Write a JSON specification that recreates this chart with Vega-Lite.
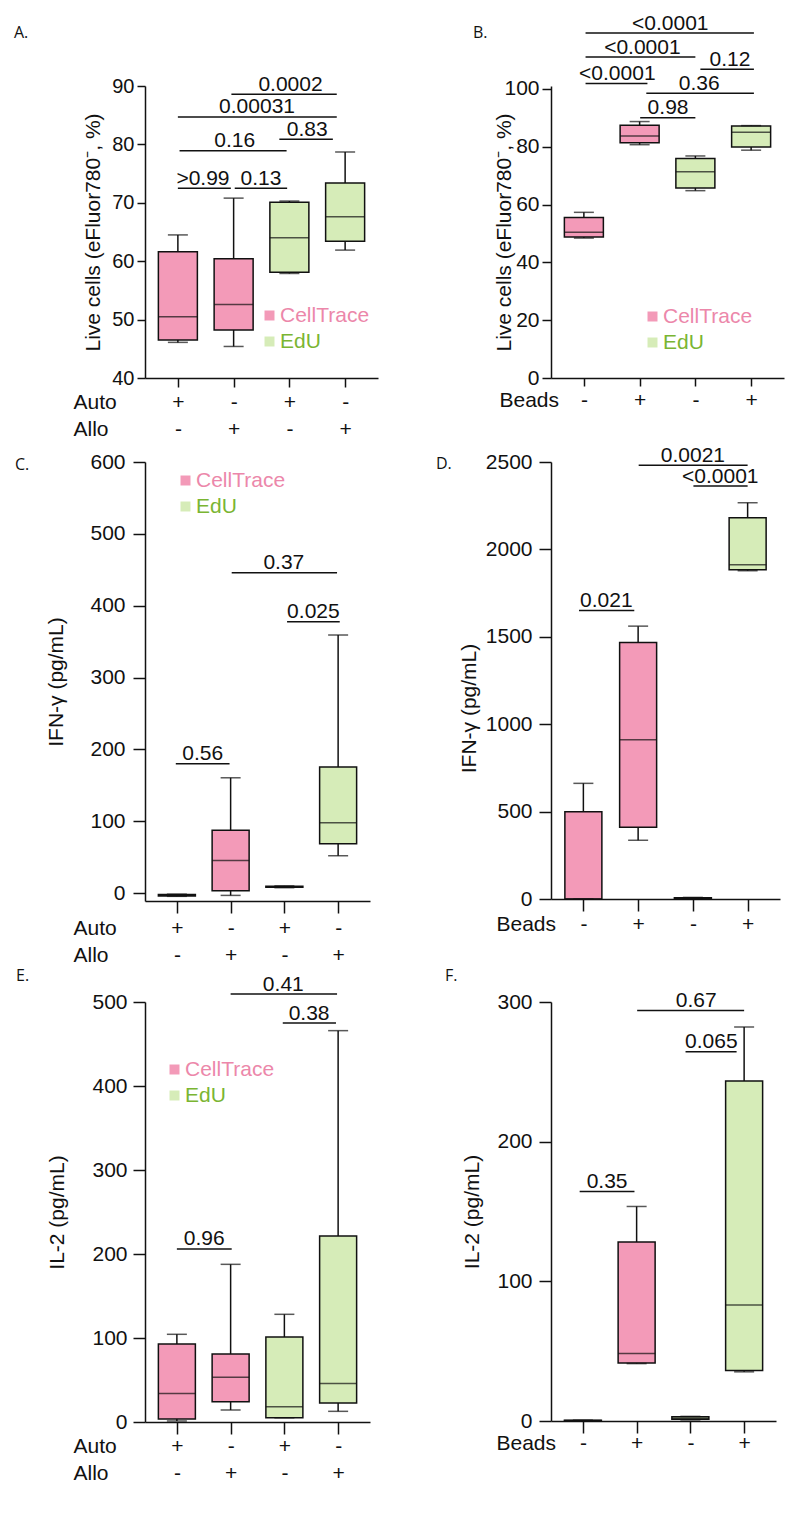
{
  "$schema": "https://vega.github.io/schema/vega-lite/v6.json",
  "background": "white",
  "padding": {"left": 14, "top": 12, "right": 5, "bottom": 5},
  "config": {
    "view": {"stroke": null},
    "font": "Liberation Sans",
    "axis": {"grid": false, "domainColor": "#111", "tickColor": "#111", "labelColor": "#111", "titleColor": "#111", "domainWidth": 1.5, "tickWidth": 1.5, "labelFont": "Liberation Sans", "titleFont": "Liberation Sans", "labelFontSize": 21, "titleFontSize": 21, "titleFontWeight": "normal", "labelOverlap": false, "labelFlush": false, "format": "d"},
    "legend": {"labelFont": "Liberation Sans", "labelFontSize": 21, "symbolType": "square", "symbolSize": 100, "symbolStrokeWidth": 0, "rowPadding": 4, "labelOffset": 0, "padding": 0},
    "title": {"anchor": "start", "frame": "group", "font": "Open Sans", "fontSize": 16, "fontWeight": "normal", "color": "#111", "offset": 0, "baseline": "alphabetic"}
  },
  "datasets": {
    "boxes": [
      {"panel": "A", "pos": 1, "dye": "CellTrace", "min": 46.1, "q1": 46.5, "median": 50.5, "q3": 61.6, "max": 64.5},
      {"panel": "A", "pos": 2, "dye": "CellTrace", "min": 45.4, "q1": 48.2, "median": 52.6, "q3": 60.4, "max": 70.8},
      {"panel": "A", "pos": 3, "dye": "EdU", "min": 57.9, "q1": 58.1, "median": 64.0, "q3": 70.1, "max": 70.3},
      {"panel": "A", "pos": 4, "dye": "EdU", "min": 61.9, "q1": 63.4, "median": 67.6, "q3": 73.4, "max": 78.7},
      {"panel": "B", "pos": 1, "dye": "CellTrace", "min": 48.4, "q1": 48.8, "median": 50.4, "q3": 55.5, "max": 57.3},
      {"panel": "B", "pos": 2, "dye": "CellTrace", "min": 80.7, "q1": 81.4, "median": 83.7, "q3": 87.4, "max": 88.7},
      {"panel": "B", "pos": 3, "dye": "EdU", "min": 64.8, "q1": 65.7, "median": 71.3, "q3": 75.9, "max": 76.8},
      {"panel": "B", "pos": 4, "dye": "EdU", "min": 78.8, "q1": 79.9, "median": 85.0, "q3": 87.2, "max": 87.3},
      {"panel": "C", "pos": 1, "dye": "CellTrace", "min": -4.5, "q1": -4, "median": -3, "q3": -2, "max": -1.5},
      {"panel": "C", "pos": 2, "dye": "CellTrace", "min": -3.2, "q1": 3.2, "median": 45.5, "q3": 87.3, "max": 160.5},
      {"panel": "C", "pos": 3, "dye": "EdU", "min": 7.5, "q1": 8, "median": 8.5, "q3": 9.5, "max": 10},
      {"panel": "C", "pos": 4, "dye": "EdU", "min": 52.0, "q1": 68.7, "median": 97.9, "q3": 175.4, "max": 359.2},
      {"panel": "D", "pos": 1, "dye": "CellTrace", "min": 0, "q1": 0, "median": 0, "q3": 499.7, "max": 661.6},
      {"panel": "D", "pos": 2, "dye": "CellTrace", "min": 336, "q1": 410, "median": 911, "q3": 1468, "max": 1561},
      {"panel": "D", "pos": 3, "dye": "EdU", "min": 2, "q1": 3, "median": 5, "q3": 7, "max": 9},
      {"panel": "D", "pos": 4, "dye": "EdU", "min": 1878, "q1": 1883, "median": 1912, "q3": 2181, "max": 2267},
      {"panel": "E", "pos": 1, "dye": "CellTrace", "min": 1.2, "q1": 3.6, "median": 33.8, "q3": 92.9, "max": 104.4},
      {"panel": "E", "pos": 2, "dye": "CellTrace", "min": 14.3, "q1": 24.2, "median": 53.2, "q3": 81, "max": 187.7},
      {"panel": "E", "pos": 3, "dye": "EdU", "min": 5, "q1": 5.2, "median": 18.3, "q3": 101.2, "max": 128.2},
      {"panel": "E", "pos": 4, "dye": "EdU", "min": 12.7, "q1": 22.6, "median": 45.7, "q3": 221.4, "max": 465.9},
      {"panel": "F", "pos": 1, "dye": "CellTrace", "min": 0, "q1": 0, "median": 0.3, "q3": 0.5, "max": 0.6},
      {"panel": "F", "pos": 2, "dye": "CellTrace", "min": 41.1, "q1": 41.6, "median": 48.3, "q3": 128.2, "max": 153.6},
      {"panel": "F", "pos": 3, "dye": "EdU", "min": 0.8, "q1": 1.2, "median": 2, "q3": 3, "max": 3.3},
      {"panel": "F", "pos": 4, "dye": "EdU", "min": 35.2, "q1": 36.1, "median": 83, "q3": 243.4, "max": 282.1}
    ],
    "brackets": [
      {"panel": "A", "x1": 1.0, "x2": 1.95, "y": 72.5, "lx": 1.45, "label": ">0.99"},
      {"panel": "A", "x1": 2.02, "x2": 2.96, "y": 72.5, "lx": 2.49, "label": "0.13"},
      {"panel": "A", "x1": 1.03, "x2": 2.95, "y": 78.9, "lx": 2.02, "label": "0.16"},
      {"panel": "A", "x1": 2.82, "x2": 3.78, "y": 80.9, "lx": 3.32, "label": "0.83"},
      {"panel": "A", "x1": 1.0, "x2": 3.85, "y": 84.7, "lx": 2.42, "label": "0.00031"},
      {"panel": "A", "x1": 1.96, "x2": 3.85, "y": 88.6, "lx": 3.02, "label": "0.0002"},
      {"panel": "B", "x1": 1.03, "x2": 4.05, "y": 119.3, "lx": 2.55, "label": "<0.0001"},
      {"panel": "B", "x1": 1.03, "x2": 3.0, "y": 111.0, "lx": 2.05, "label": "<0.0001"},
      {"panel": "B", "x1": 3.09, "x2": 4.05, "y": 106.8, "lx": 3.62, "label": "0.12"},
      {"panel": "B", "x1": 1.03, "x2": 2.14, "y": 101.9, "lx": 1.6, "label": "<0.0001"},
      {"panel": "B", "x1": 2.12, "x2": 4.05, "y": 98.5, "lx": 3.07, "label": "0.36"},
      {"panel": "B", "x1": 2.01, "x2": 3.0, "y": 90.0, "lx": 2.51, "label": "0.98"},
      {"panel": "C", "x1": 0.98, "x2": 1.98, "y": 180, "lx": 1.48, "label": "0.56"},
      {"panel": "C", "x1": 2.02, "x2": 3.98, "y": 446, "lx": 2.99, "label": "0.37"},
      {"panel": "C", "x1": 3.05, "x2": 4.03, "y": 377.7, "lx": 3.54, "label": "0.025"},
      {"panel": "D", "x1": 2.01, "x2": 4.0, "y": 2481, "lx": 3.0, "label": "0.0021"},
      {"panel": "D", "x1": 3.01, "x2": 4.0, "y": 2362, "lx": 3.5, "label": "<0.0001"},
      {"panel": "D", "x1": 0.92, "x2": 1.93, "y": 1651, "lx": 1.42, "label": "0.021"},
      {"panel": "E", "x1": 1.0, "x2": 2.02, "y": 206, "lx": 1.51, "label": "0.96"},
      {"panel": "E", "x1": 2.0, "x2": 3.98, "y": 509.5, "lx": 2.98, "label": "0.41"},
      {"panel": "E", "x1": 2.97, "x2": 3.96, "y": 475, "lx": 3.46, "label": "0.38"},
      {"panel": "F", "x1": 0.94, "x2": 1.96, "y": 164.4, "lx": 1.45, "label": "0.35"},
      {"panel": "F", "x1": 2.01, "x2": 4.0, "y": 294, "lx": 3.11, "label": "0.67"},
      {"panel": "F", "x1": 2.91, "x2": 3.86, "y": 264.4, "lx": 3.39, "label": "0.065"}
    ]
  },
  "columns": 2,
  "bounds": "flush",
  "align": "each",
  "spacing": {"row": 84, "column": 173},
  "resolve": {"scale": {"color": "independent"}, "legend": {"color": "independent"}},
  "concat": [
    {
      "width": 233, "height": 292,
      "title": {"text": "A.", "dx": -131, "dy": -29},
      "layer": [
        {"data": {"name": "boxes"}, "transform": [{"filter": "datum.panel == 'A'"}],
         "mark": {"type": "rule", "color": "#111", "strokeWidth": 1.5},
         "encoding": {
           "x": {"field": "pos", "type": "quantitative", "scale": {"domain": [0.5, 4.5], "nice": false, "zero": false},
                 "axis": {"values": [1, 2, 3, 4], "tickSize": 9, "labelPadding": 21, "labelBaseline": "alphabetic", "labelLineHeight": 27, "labelExpr": "datum.value % 2 == 1 ? ['+','-'] : ['-','+']", "title": ["Auto", "Allo"], "titleAngle": 0, "titleAlign": "left", "titleBaseline": "alphabetic", "titleLineHeight": 27, "titleX": -72, "titleY": 30}},
           "y": {"field": "min", "type": "quantitative", "scale": {"domain": [40, 90], "nice": false, "zero": false},
                 "axis": {"values": [40, 50, 60, 70, 80, 90], "tickSize": 8, "labelPadding": 3, "labelFontSize": 20, "title": "Live cells (eFluor780⁻, %)", "titleX": -46, "titleBaseline": "alphabetic"}},
           "y2": {"field": "max"}
         }},
        {"data": {"name": "boxes"}, "transform": [{"filter": "datum.panel == 'A'"}],
         "mark": {"type": "bar", "orient": "vertical", "size": 39, "stroke": "#111", "strokeWidth": 1.5},
         "encoding": {
           "x": {"field": "pos", "type": "quantitative"},
           "y": {"field": "q1", "type": "quantitative"},
           "y2": {"field": "q3"},
           "color": {"field": "dye", "type": "nominal", "scale": {"domain": ["CellTrace", "EdU"], "range": ["#f39ab8", "#d6ecb8"]},
                     "legend": {"title": null, "orient": "none", "legendX": 114, "legendY": 219, "labelColor": {"expr": "datum.label == 'CellTrace' ? '#ec87aa' : '#7ab532'"}}}
         }},
        {"data": {"name": "boxes"}, "transform": [{"filter": "datum.panel == 'A'"}],
         "mark": {"type": "tick", "orient": "horizontal", "size": 39, "thickness": 1.5, "color": "#111"},
         "encoding": {"x": {"field": "pos", "type": "quantitative"}, "y": {"field": "median", "type": "quantitative"}}},
        {"data": {"name": "boxes"}, "transform": [{"filter": "datum.panel == 'A'"}],
         "mark": {"type": "tick", "orient": "horizontal", "size": 20, "thickness": 1.5, "color": "#111"},
         "encoding": {"x": {"field": "pos", "type": "quantitative"}, "y": {"field": "min", "type": "quantitative"}}},
        {"data": {"name": "boxes"}, "transform": [{"filter": "datum.panel == 'A'"}],
         "mark": {"type": "tick", "orient": "horizontal", "size": 20, "thickness": 1.5, "color": "#111"},
         "encoding": {"x": {"field": "pos", "type": "quantitative"}, "y": {"field": "max", "type": "quantitative"}}},
        {"data": {"name": "brackets"}, "transform": [{"filter": "datum.panel == 'A'"}],
         "mark": {"type": "rule", "color": "#111", "strokeWidth": 1.5},
         "encoding": {"x": {"field": "x1", "type": "quantitative"}, "x2": {"field": "x2"}, "y": {"field": "y", "type": "quantitative"}}},
        {"data": {"name": "brackets"}, "transform": [{"filter": "datum.panel == 'A'"}],
         "mark": {"type": "text", "baseline": "alphabetic", "dy": -3.5, "fontSize": 21, "color": "#111"},
         "encoding": {"x": {"field": "lx", "type": "quantitative"}, "y": {"field": "y", "type": "quantitative"}, "text": {"field": "label"}}}
      ]
    },
    {
      "width": 233, "height": 292,
      "title": {"text": "B.", "dx": -78, "dy": 32},
      "layer": [
        {"data": {"name": "boxes"}, "transform": [{"filter": "datum.panel == 'B'"}],
         "mark": {"type": "rule", "color": "#111", "strokeWidth": 1.5},
         "encoding": {
           "x": {"field": "pos", "type": "quantitative", "scale": {"domain": [0.5, 4.5], "nice": false, "zero": false},
                 "axis": {"values": [1, 2, 3, 4], "tickSize": 8, "labelPadding": 20, "labelBaseline": "alphabetic", "labelExpr": "datum.value % 2 == 1 ? '-' : '+'", "title": "Beads", "titleAngle": 0, "titleAlign": "left", "titleBaseline": "alphabetic", "titleX": -52, "titleY": 28}},
           "y": {"field": "min", "type": "quantitative", "scale": {"domain": [0, 101], "nice": false, "zero": false},
                 "axis": {"values": [0, 20, 40, 60, 80, 100], "tickSize": 9, "labelPadding": 3, "title": "Live cells (eFluor780⁻, %)", "titleX": -41, "titleBaseline": "alphabetic"}},
           "y2": {"field": "max"}
         }},
        {"data": {"name": "boxes"}, "transform": [{"filter": "datum.panel == 'B'"}],
         "mark": {"type": "bar", "orient": "vertical", "size": 39, "stroke": "#111", "strokeWidth": 1.5},
         "encoding": {
           "x": {"field": "pos", "type": "quantitative"},
           "y": {"field": "q1", "type": "quantitative"},
           "y2": {"field": "q3"},
           "color": {"field": "dye", "type": "nominal", "scale": {"domain": ["CellTrace", "EdU"], "range": ["#f39ab8", "#d6ecb8"]},
                     "legend": {"title": null, "orient": "none", "legendX": 91, "legendY": 220, "labelColor": {"expr": "datum.label == 'CellTrace' ? '#ec87aa' : '#7ab532'"}}}
         }},
        {"data": {"name": "boxes"}, "transform": [{"filter": "datum.panel == 'B'"}],
         "mark": {"type": "tick", "orient": "horizontal", "size": 39, "thickness": 1.5, "color": "#111"},
         "encoding": {"x": {"field": "pos", "type": "quantitative"}, "y": {"field": "median", "type": "quantitative"}}},
        {"data": {"name": "boxes"}, "transform": [{"filter": "datum.panel == 'B'"}],
         "mark": {"type": "tick", "orient": "horizontal", "size": 20, "thickness": 1.5, "color": "#111"},
         "encoding": {"x": {"field": "pos", "type": "quantitative"}, "y": {"field": "min", "type": "quantitative"}}},
        {"data": {"name": "boxes"}, "transform": [{"filter": "datum.panel == 'B'"}],
         "mark": {"type": "tick", "orient": "horizontal", "size": 20, "thickness": 1.5, "color": "#111"},
         "encoding": {"x": {"field": "pos", "type": "quantitative"}, "y": {"field": "max", "type": "quantitative"}}},
        {"data": {"name": "brackets"}, "transform": [{"filter": "datum.panel == 'B'"}],
         "mark": {"type": "rule", "color": "#111", "strokeWidth": 1.5},
         "encoding": {"x": {"field": "x1", "type": "quantitative"}, "x2": {"field": "x2"}, "y": {"field": "y", "type": "quantitative"}}},
        {"data": {"name": "brackets"}, "transform": [{"filter": "datum.panel == 'B'"}],
         "mark": {"type": "text", "baseline": "alphabetic", "dy": -3.5, "fontSize": 21, "color": "#111"},
         "encoding": {"x": {"field": "lx", "type": "quantitative"}, "y": {"field": "y", "type": "quantitative"}, "text": {"field": "label"}}}
      ]
    },
    {
      "width": 225, "height": 456,
      "title": {"text": "C.", "dx": -130, "dy": 26},
      "layer": [
        {"data": {"name": "boxes"}, "transform": [{"filter": "datum.panel == 'C'"}],
         "mark": {"type": "rule", "color": "#111", "strokeWidth": 1.5},
         "encoding": {
           "x": {"field": "pos", "type": "quantitative", "scale": {"domain": [0.5, 4.5], "nice": false, "zero": false},
                 "axis": {"offset": -17, "values": [1, 2, 3, 4], "tickSize": 12, "labelPadding": 21, "labelBaseline": "alphabetic", "labelLineHeight": 27, "labelExpr": "datum.value % 2 == 1 ? ['+','-'] : ['-','+']", "title": ["Auto", "Allo"], "titleAngle": 0, "titleAlign": "left", "titleBaseline": "alphabetic", "titleLineHeight": 27, "titleX": -72, "titleY": 33}},
           "y": {"field": "min", "type": "quantitative", "scale": {"domain": [-11, 600], "range": [439, 0], "nice": false, "zero": false},
                 "axis": {"values": [0, 100, 200, 300, 400, 500, 600], "tickSize": 12, "labelPadding": 8, "title": "IFN-γ (pg/mL)", "titleX": -83, "titleBaseline": "alphabetic"}},
           "y2": {"field": "max"}
         }},
        {"data": {"name": "boxes"}, "transform": [{"filter": "datum.panel == 'C'"}],
         "mark": {"type": "bar", "orient": "vertical", "size": 37, "stroke": "#111", "strokeWidth": 1.5},
         "encoding": {
           "x": {"field": "pos", "type": "quantitative"},
           "y": {"field": "q1", "type": "quantitative"},
           "y2": {"field": "q3"},
           "color": {"field": "dye", "type": "nominal", "scale": {"domain": ["CellTrace", "EdU"], "range": ["#f39ab8", "#d6ecb8"]},
                     "legend": {"title": null, "orient": "none", "legendX": 30, "legendY": 8, "labelColor": {"expr": "datum.label == 'CellTrace' ? '#ec87aa' : '#7ab532'"}}}
         }},
        {"data": {"name": "boxes"}, "transform": [{"filter": "datum.panel == 'C'"}],
         "mark": {"type": "tick", "orient": "horizontal", "size": 37, "thickness": 1.5, "color": "#111"},
         "encoding": {"x": {"field": "pos", "type": "quantitative"}, "y": {"field": "median", "type": "quantitative"}}},
        {"data": {"name": "boxes"}, "transform": [{"filter": "datum.panel == 'C'"}],
         "mark": {"type": "tick", "orient": "horizontal", "size": 20, "thickness": 1.5, "color": "#111"},
         "encoding": {"x": {"field": "pos", "type": "quantitative"}, "y": {"field": "min", "type": "quantitative"}}},
        {"data": {"name": "boxes"}, "transform": [{"filter": "datum.panel == 'C'"}],
         "mark": {"type": "tick", "orient": "horizontal", "size": 20, "thickness": 1.5, "color": "#111"},
         "encoding": {"x": {"field": "pos", "type": "quantitative"}, "y": {"field": "max", "type": "quantitative"}}},
        {"data": {"name": "brackets"}, "transform": [{"filter": "datum.panel == 'C'"}],
         "mark": {"type": "rule", "color": "#111", "strokeWidth": 1.5},
         "encoding": {"x": {"field": "x1", "type": "quantitative"}, "x2": {"field": "x2"}, "y": {"field": "y", "type": "quantitative"}}},
        {"data": {"name": "brackets"}, "transform": [{"filter": "datum.panel == 'C'"}],
         "mark": {"type": "text", "baseline": "alphabetic", "dy": -3.5, "fontSize": 21, "color": "#111"},
         "encoding": {"x": {"field": "lx", "type": "quantitative"}, "y": {"field": "y", "type": "quantitative"}, "text": {"field": "label"}}}
      ]
    },
    {
      "width": 229, "height": 456,
      "title": {"text": "D.", "dx": -115, "dy": 31},
      "layer": [
        {"data": {"name": "boxes"}, "transform": [{"filter": "datum.panel == 'D'"}],
         "mark": {"type": "rule", "color": "#111", "strokeWidth": 1.5},
         "encoding": {
           "x": {"field": "pos", "type": "quantitative", "scale": {"domain": [0.5, 4.5], "nice": false, "zero": false},
                 "axis": {"offset": -19, "values": [1, 2, 3, 4], "tickSize": 12, "labelPadding": 19, "labelBaseline": "alphabetic", "labelExpr": "datum.value % 2 == 1 ? '-' : '+'", "title": "Beads", "titleAngle": 0, "titleAlign": "left", "titleBaseline": "alphabetic", "titleX": -55, "titleY": 31}},
           "y": {"field": "min", "type": "quantitative", "scale": {"domain": [0, 2500], "range": [437, 0], "nice": false, "zero": false},
                 "axis": {"values": [0, 500, 1000, 1500, 2000, 2500], "tickSize": 12, "labelPadding": 7, "title": "IFN-γ (pg/mL)", "titleX": -76, "titleY": 246, "titleBaseline": "alphabetic"}},
           "y2": {"field": "max"}
         }},
        {"data": {"name": "boxes"}, "transform": [{"filter": "datum.panel == 'D'"}],
         "mark": {"type": "bar", "orient": "vertical", "size": 37, "stroke": "#111", "strokeWidth": 1.5},
         "encoding": {
           "x": {"field": "pos", "type": "quantitative"},
           "y": {"field": "q1", "type": "quantitative"},
           "y2": {"field": "q3"},
           "color": {"field": "dye", "type": "nominal", "scale": {"domain": ["CellTrace", "EdU"], "range": ["#f39ab8", "#d6ecb8"]}, "legend": null}
         }},
        {"data": {"name": "boxes"}, "transform": [{"filter": "datum.panel == 'D'"}],
         "mark": {"type": "tick", "orient": "horizontal", "size": 37, "thickness": 1.5, "color": "#111"},
         "encoding": {"x": {"field": "pos", "type": "quantitative"}, "y": {"field": "median", "type": "quantitative"}}},
        {"data": {"name": "boxes"}, "transform": [{"filter": "datum.panel == 'D'"}],
         "mark": {"type": "tick", "orient": "horizontal", "size": 20, "thickness": 1.5, "color": "#111"},
         "encoding": {"x": {"field": "pos", "type": "quantitative"}, "y": {"field": "min", "type": "quantitative"}}},
        {"data": {"name": "boxes"}, "transform": [{"filter": "datum.panel == 'D'"}],
         "mark": {"type": "tick", "orient": "horizontal", "size": 20, "thickness": 1.5, "color": "#111"},
         "encoding": {"x": {"field": "pos", "type": "quantitative"}, "y": {"field": "max", "type": "quantitative"}}},
        {"data": {"name": "brackets"}, "transform": [{"filter": "datum.panel == 'D'"}],
         "mark": {"type": "rule", "color": "#111", "strokeWidth": 1.5},
         "encoding": {"x": {"field": "x1", "type": "quantitative"}, "x2": {"field": "x2"}, "y": {"field": "y", "type": "quantitative"}}},
        {"data": {"name": "brackets"}, "transform": [{"filter": "datum.panel == 'D'"}],
         "mark": {"type": "text", "baseline": "alphabetic", "dy": -3, "fontSize": 21, "color": "#111"},
         "encoding": {"x": {"field": "lx", "type": "quantitative"}, "y": {"field": "y", "type": "quantitative"}, "text": {"field": "label"}}}
      ]
    },
    {
      "width": 225, "height": 420,
      "title": {"text": "E.", "dx": -129, "dy": 14},
      "layer": [
        {"data": {"name": "boxes"}, "transform": [{"filter": "datum.panel == 'E'"}],
         "mark": {"type": "rule", "color": "#111", "strokeWidth": 1.5},
         "encoding": {
           "x": {"field": "pos", "type": "quantitative", "scale": {"domain": [0.5, 4.5], "nice": false, "zero": false},
                 "axis": {"values": [1, 2, 3, 4], "tickSize": 12, "labelPadding": 18, "labelBaseline": "alphabetic", "labelLineHeight": 27, "labelExpr": "datum.value % 2 == 1 ? ['+','-'] : ['-','+']", "title": ["Auto", "Allo"], "titleAngle": 0, "titleAlign": "left", "titleBaseline": "alphabetic", "titleLineHeight": 27, "titleX": -72, "titleY": 30}},
           "y": {"field": "min", "type": "quantitative", "scale": {"domain": [0, 500], "nice": false, "zero": false},
                 "axis": {"values": [0, 100, 200, 300, 400, 500], "tickSize": 12, "labelPadding": 6, "title": "IL-2 (pg/mL)", "titleX": -82, "titleBaseline": "alphabetic"}},
           "y2": {"field": "max"}
         }},
        {"data": {"name": "boxes"}, "transform": [{"filter": "datum.panel == 'E'"}],
         "mark": {"type": "bar", "orient": "vertical", "size": 37, "stroke": "#111", "strokeWidth": 1.5},
         "encoding": {
           "x": {"field": "pos", "type": "quantitative"},
           "y": {"field": "q1", "type": "quantitative"},
           "y2": {"field": "q3"},
           "color": {"field": "dye", "type": "nominal", "scale": {"domain": ["CellTrace", "EdU"], "range": ["#f39ab8", "#d6ecb8"]},
                     "legend": {"title": null, "orient": "none", "legendX": 19, "legendY": 57, "labelColor": {"expr": "datum.label == 'CellTrace' ? '#ec87aa' : '#7ab532'"}}}
         }},
        {"data": {"name": "boxes"}, "transform": [{"filter": "datum.panel == 'E'"}],
         "mark": {"type": "tick", "orient": "horizontal", "size": 37, "thickness": 1.5, "color": "#111"},
         "encoding": {"x": {"field": "pos", "type": "quantitative"}, "y": {"field": "median", "type": "quantitative"}}},
        {"data": {"name": "boxes"}, "transform": [{"filter": "datum.panel == 'E'"}],
         "mark": {"type": "tick", "orient": "horizontal", "size": 20, "thickness": 1.5, "color": "#111"},
         "encoding": {"x": {"field": "pos", "type": "quantitative"}, "y": {"field": "min", "type": "quantitative"}}},
        {"data": {"name": "boxes"}, "transform": [{"filter": "datum.panel == 'E'"}],
         "mark": {"type": "tick", "orient": "horizontal", "size": 20, "thickness": 1.5, "color": "#111"},
         "encoding": {"x": {"field": "pos", "type": "quantitative"}, "y": {"field": "max", "type": "quantitative"}}},
        {"data": {"name": "brackets"}, "transform": [{"filter": "datum.panel == 'E'"}],
         "mark": {"type": "rule", "color": "#111", "strokeWidth": 1.5},
         "encoding": {"x": {"field": "x1", "type": "quantitative"}, "x2": {"field": "x2"}, "y": {"field": "y", "type": "quantitative"}}},
        {"data": {"name": "brackets"}, "transform": [{"filter": "datum.panel == 'E'"}],
         "mark": {"type": "text", "baseline": "alphabetic", "dy": -3.5, "fontSize": 21, "color": "#111"},
         "encoding": {"x": {"field": "lx", "type": "quantitative"}, "y": {"field": "y", "type": "quantitative"}, "text": {"field": "label"}}}
      ]
    },
    {
      "width": 225, "height": 419,
      "title": {"text": "F.", "dx": -106, "dy": -2},
      "layer": [
        {"data": {"name": "boxes"}, "transform": [{"filter": "datum.panel == 'F'"}],
         "mark": {"type": "rule", "color": "#111", "strokeWidth": 1.5},
         "encoding": {
           "x": {"field": "pos", "type": "quantitative", "scale": {"domain": [0.5, 4.5], "nice": false, "zero": false},
                 "axis": {"values": [1, 2, 3, 4], "tickSize": 12, "labelPadding": 16, "labelBaseline": "alphabetic", "labelExpr": "datum.value % 2 == 1 ? '-' : '+'", "title": "Beads", "titleAngle": 0, "titleAlign": "left", "titleBaseline": "alphabetic", "titleX": -55, "titleY": 28}},
           "y": {"field": "min", "type": "quantitative", "scale": {"domain": [0, 300], "nice": false, "zero": false},
                 "axis": {"values": [0, 100, 200, 300], "tickSize": 12, "labelPadding": 7, "title": "IL-2 (pg/mL)", "titleX": -73, "titleBaseline": "alphabetic"}},
           "y2": {"field": "max"}
         }},
        {"data": {"name": "boxes"}, "transform": [{"filter": "datum.panel == 'F'"}],
         "mark": {"type": "bar", "orient": "vertical", "size": 37, "stroke": "#111", "strokeWidth": 1.5},
         "encoding": {
           "x": {"field": "pos", "type": "quantitative"},
           "y": {"field": "q1", "type": "quantitative"},
           "y2": {"field": "q3"},
           "color": {"field": "dye", "type": "nominal", "scale": {"domain": ["CellTrace", "EdU"], "range": ["#f39ab8", "#d6ecb8"]}, "legend": null}
         }},
        {"data": {"name": "boxes"}, "transform": [{"filter": "datum.panel == 'F'"}],
         "mark": {"type": "tick", "orient": "horizontal", "size": 37, "thickness": 1.5, "color": "#111"},
         "encoding": {"x": {"field": "pos", "type": "quantitative"}, "y": {"field": "median", "type": "quantitative"}}},
        {"data": {"name": "boxes"}, "transform": [{"filter": "datum.panel == 'F'"}],
         "mark": {"type": "tick", "orient": "horizontal", "size": 20, "thickness": 1.5, "color": "#111"},
         "encoding": {"x": {"field": "pos", "type": "quantitative"}, "y": {"field": "min", "type": "quantitative"}}},
        {"data": {"name": "boxes"}, "transform": [{"filter": "datum.panel == 'F'"}],
         "mark": {"type": "tick", "orient": "horizontal", "size": 20, "thickness": 1.5, "color": "#111"},
         "encoding": {"x": {"field": "pos", "type": "quantitative"}, "y": {"field": "max", "type": "quantitative"}}},
        {"data": {"name": "brackets"}, "transform": [{"filter": "datum.panel == 'F'"}],
         "mark": {"type": "rule", "color": "#111", "strokeWidth": 1.5},
         "encoding": {"x": {"field": "x1", "type": "quantitative"}, "x2": {"field": "x2"}, "y": {"field": "y", "type": "quantitative"}}},
        {"data": {"name": "brackets"}, "transform": [{"filter": "datum.panel == 'F'"}],
         "mark": {"type": "text", "baseline": "alphabetic", "dy": -3.5, "fontSize": 21, "color": "#111"},
         "encoding": {"x": {"field": "lx", "type": "quantitative"}, "y": {"field": "y", "type": "quantitative"}, "text": {"field": "label"}}}
      ]
    }
  ]
}
